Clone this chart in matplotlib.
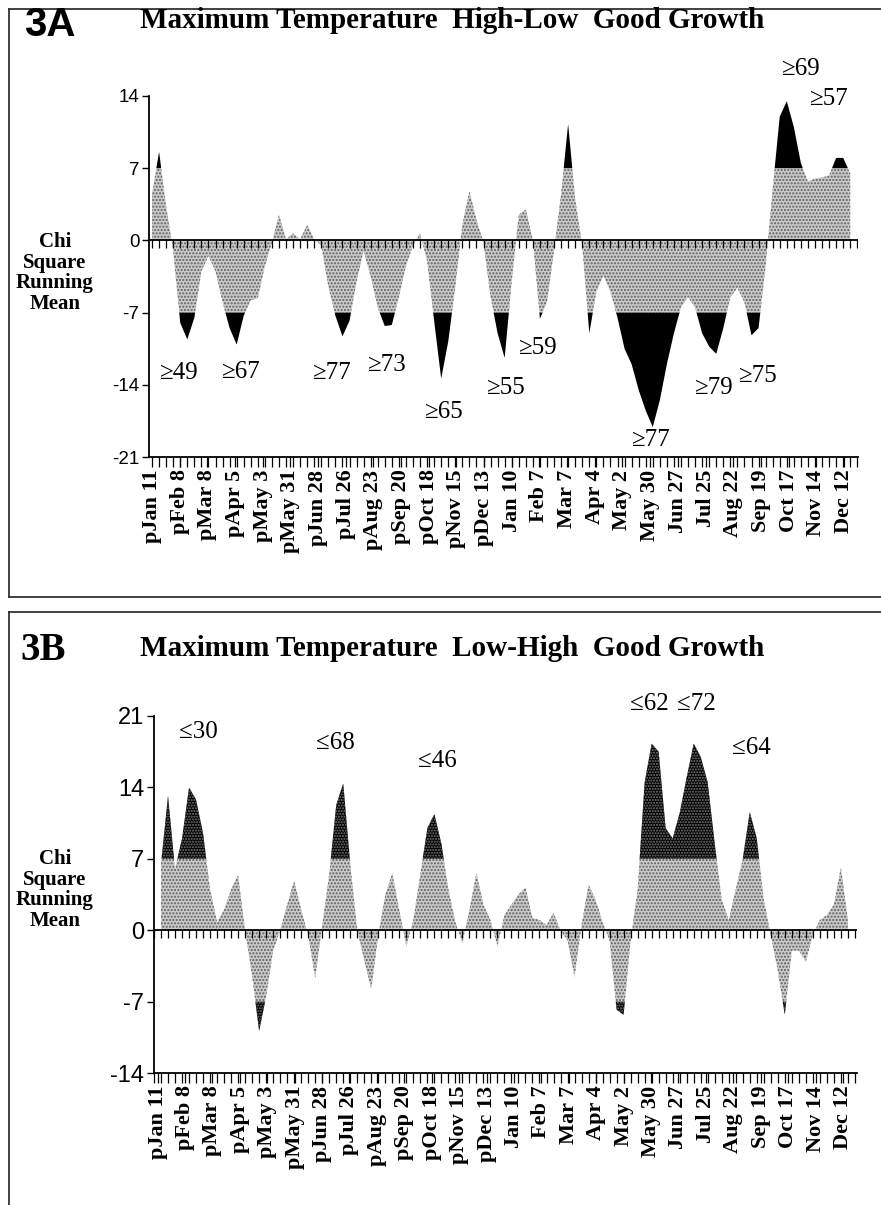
import numpy as np
import matplotlib.pyplot as plt
from matplotlib.lines import Line2D

SERIF = 'Liberation Serif'
SANS = 'Liberation Sans'

# week labels (same for both panels)
week_labels = ['pJan 11', 'pFeb 8', 'pMar 8', 'pApr 5', 'pMay 3', 'pMay 31',
               'pJun 28', 'pJul 26', 'pAug 23', 'pSep 20', 'pOct 18', 'pNov 15',
               'pDec 13', 'Jan 10', 'Feb 7', 'Mar 7', 'Apr 4', 'May 2',
               'May 30', 'Jun 27', 'Jul 25', 'Aug 22', 'Sep 19', 'Oct 17',
               'Nov 14', 'Dec 12']

# panel 3A: chi square running mean, weekly
a_weeks = np.arange(1, 101)
a_vals = [4.5, 8.6, 3.3, -1.0, -8.0, -9.6, -7.5, -3.0, -1.5, -3.0,
          -6.0, -8.5, -10.1, -7.3, -5.8, -5.6, -2.5, -0.2, 2.5, 0.1,
          0.7, 0.1, 1.5, 0.1, -0.5, -4.5, -7.3, -9.3, -7.8, -4.0,
          -1.0, -3.5, -6.5, -8.3, -8.2, -5.5, -2.5, -0.5, 0.7, -2.0,
          -7.8, -13.4, -9.8, -4.5, 1.5, 4.8, 2.0, -0.2, -5.5, -9.0,
          -11.4, -4.0, 2.5, 3.0, 0.0, -7.6, -6.0, -1.0, 4.5, 11.3,
          4.0, -0.5, -9.0, -5.0, -3.4, -5.0, -7.5, -10.5, -12.0, -14.5,
          -16.5, -18.1, -15.5, -12.0, -9.0, -6.5, -5.5, -6.5, -9.0, -10.3,
          -11.0, -8.5, -5.5, -4.6, -6.0, -9.2, -8.5, -2.5, 5.0, 12.0,
          13.5, 11.0, 7.5, 5.7, 6.0, 6.1, 6.3, 8.0, 8.0, 6.5]
a_labels = ['≥49', '≥67', '≥77', '≥73', '≥65', '≥55', '≥59', '≥77', '≥79', '≥75', '≥69', '≥57']
a_lab_x = [4.7, 13.5, 26.5, 34.3, 42.3, 51.1, 55.7, 71.6, 80.6, 86.9, 92.9, 96.9]
a_lab_y = [-12.9, -12.8, -12.9, -12.1, -16.6, -14.3, -10.4, -19.4, -14.3, -13.1, 16.6, 13.7]

# panel 3B
b_weeks = np.arange(2, 101)
b_vals = [6.5, 13.2, 6.0, 9.0, 14.0, 12.8, 9.5, 4.0, 0.8, 2.0,
          4.0, 5.4, 0.0, -4.5, -9.9, -6.5, -2.0, 0.0, 2.5, 4.9,
          2.0, -0.5, -4.7, 0.5, 5.5, 12.3, 14.4, 6.5, 0.0, -3.0,
          -5.8, -0.5, 3.5, 5.6, 2.0, -1.6, 1.0, 5.5, 10.0, 11.4,
          8.5, 4.0, 0.8, -1.3, 2.0, 5.6, 2.5, 1.0, -1.6, 1.5,
          2.5, 3.5, 4.2, 1.2, 1.0, 0.5, 1.7, 0.0, -1.0, -4.6,
          0.5, 4.5, 3.0, 0.8, -1.0, -7.8, -8.3, -1.0, 4.0, 14.5,
          18.3, 17.5, 10.0, 9.0, 11.5, 15.0, 18.3, 17.0, 14.5, 8.5,
          3.0, 1.0, 4.0, 7.0, 11.6, 9.0, 3.0, -0.5, -4.0, -8.3,
          -2.0, -2.0, -3.1, -0.5, 1.0, 1.5, 2.5, 6.2, 1.0]
b_labels = ['≤30', '≤68', '≤46', '≤62', '≤72', '≤64']
b_lab_x = [7.4, 26.9, 41.5, 71.7, 78.4, 86.2]
b_lab_y = [19.4, 18.4, 16.6, 22.2, 22.2, 17.9]


def draw_panel(ax, weeks, vals, ylim, yticks, xlim, tick_pos, labs, lab_x, lab_y,
               ytick_size, speckle_black):
    vals = np.asarray(vals, dtype=float)
    xf = np.linspace(weeks[0], weeks[-1], 3000)
    vf = np.interp(xf, weeks, vals)

    # stippled part inside +-7
    ax.fill_between(xf, 0, np.clip(vf, -7, 7), facecolor='#cacaca',
                    edgecolor='#5e5e5e', hatch='.....', linewidth=0)
    # black part beyond the critical value
    kw = dict(facecolor='black', linewidth=0, interpolate=True)
    if speckle_black:
        kw.update(edgecolor='#7a7a7a', hatch='......')
    ax.fill_between(xf, 7, vf, where=vf > 7, **kw)
    ax.fill_between(xf, -7, vf, where=vf < -7, **kw)

    ax.axhline(0, color='black', lw=1.3, zorder=3)
    ax.vlines(np.arange(1, 102), -0.75, 0, color='black', lw=0.9, zorder=3)

    ax.set_xlim(xlim)
    ax.set_ylim(ylim)
    for s in ['top', 'right']:
        ax.spines[s].set_visible(False)
    for s in ['left', 'bottom']:
        ax.spines[s].set_linewidth(1.3)

    ax.set_yticks(yticks)
    ax.set_yticklabels([str(t) for t in yticks], family=SANS, fontsize=ytick_size)
    ax.tick_params(axis='y', length=5, width=1, pad=2)

    ax.set_xticks(tick_pos)
    ax.set_xticklabels(week_labels, rotation=90, family=SERIF, fontweight='bold',
                       fontsize=16, va='top', ha='center')
    ax.set_xticks(np.arange(1, 102), minor=True)
    ax.tick_params(axis='x', which='both', length=7, width=0.9, pad=2)

    for t, x, y in zip(labs, lab_x, lab_y):
        ax.text(x, y, t, family=SERIF, fontsize=18, ha='center', va='center',
                clip_on=False)


fig = plt.figure(figsize=(8.81, 12.05), dpi=100)

axA = fig.add_axes([149 / 881, 1 - 457 / 1205, 709 / 881, 361 / 1205])
draw_panel(axA, a_weeks, a_vals, (-21, 14), [14, 7, 0, -7, -14, -21], (0.57, 101.1),
           np.linspace(1.0, 99.1, 26), a_labels, a_lab_x, a_lab_y, 13.5, False)

axB = fig.add_axes([154 / 881, 1 - 1073 / 1205, 703 / 881, 357 / 1205])
draw_panel(axB, b_weeks, b_vals, (-14, 21), [21, 14, 7, 0, -7, -14], (1.14, 101.3),
           np.linspace(1.5, 99.3, 26), b_labels, b_lab_x, b_lab_y, 17, True)

# titles and side labels
fig.text(24 / 881, 1 - 25 / 1205, '3A', family=SANS, fontweight='bold', fontsize=29,
         ha='left', va='center')
fig.text(140 / 881, 1 - 21 / 1205, 'Maximum Temperature  High-Low  Good Growth',
         family=SERIF, fontweight='bold', fontsize=21, ha='left', va='center')
fig.text(20 / 881, 1 - 650 / 1205, '3B', family=SERIF, fontweight='bold', fontsize=28,
         ha='left', va='center')
fig.text(140 / 881, 1 - 648 / 1205, 'Maximum Temperature  Low-High  Good Growth',
         family=SERIF, fontweight='bold', fontsize=21, ha='left', va='center')

side = 'Chi\nSquare\nRunning\nMean'
fig.text(55 / 881, 1 - 273 / 1205, side, family=SERIF, fontweight='bold', fontsize=15,
         ha='center', va='center', linespacing=1.05)
fig.text(55 / 881, 1 - 890 / 1205, side, family=SERIF, fontweight='bold', fontsize=15,
         ha='center', va='center', linespacing=1.05)

# panel frames
def hline(y, x0, x1):
    fig.add_artist(Line2D([x0 / 881, x1 / 881], [1 - y / 1205, 1 - y / 1205],
                          color='#333333', lw=1.3))

def vline(x, y0, y1):
    fig.add_artist(Line2D([x / 881, x / 881], [1 - y0 / 1205, 1 - y1 / 1205],
                          color='#333333', lw=1.3))

hline(9, 9, 881)
hline(597, 9, 881)
vline(9, 9, 597)
hline(612, 9, 881)
vline(9, 612, 1205)

fig.savefig('out.png', dpi=100)
